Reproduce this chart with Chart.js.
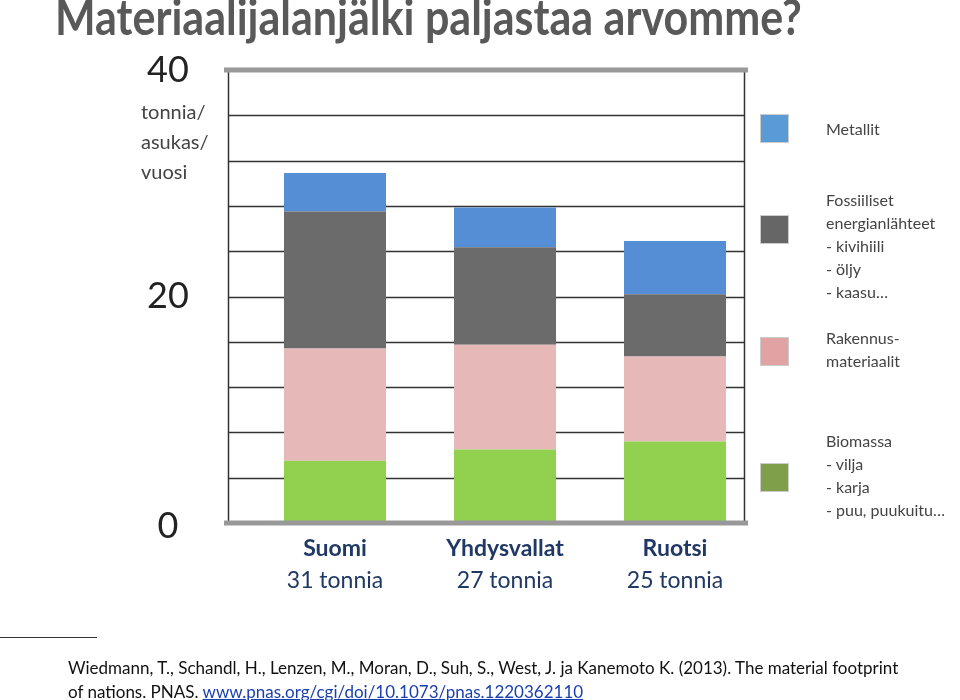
<!DOCTYPE html>
<html><head><meta charset="utf-8">
<script src="https://cdn.jsdelivr.net/npm/chart.js@4"></script>
<style>
body{margin:0;width:960px;height:700px;overflow:hidden;background:#fff;font-family:Lato,"Open Sans",sans-serif;position:relative}
canvas{position:absolute;left:0;top:0}
.t{position:absolute;white-space:nowrap}
.lg{position:absolute;font-size:16px;color:#444;line-height:23px}
.bx{position:absolute;left:760px;width:27px;height:27px;border:1px solid #ccc}
</style></head><body>
<canvas id="c" width="960" height="700"></canvas>
<div class="t" style="left:55px;top:-14px;font-size:50px;font-weight:bold;color:#595959;transform:scaleX(0.86);transform-origin:0 0">Materiaalijalanjälki paljastaa arvomme?</div>
<div class="t" style="left:141px;top:96px;font-size:20px;color:#444;line-height:30px">tonnia/<br>asukas/<br>vuosi</div>
<div class="bx" style="top:114px;background:#5b9bd5"></div>
<div class="bx" style="top:215px;background:#666666"></div>
<div class="bx" style="top:337px;background:#e0a2a2"></div>
<div class="bx" style="top:463px;background:#7f9f4a"></div>
<div class="lg" style="left:826px;top:117px">Metallit</div>
<div class="lg" style="left:826px;top:188px">Fossiiliset<br>energianlähteet<br>- kivihiili<br>- öljy<br>- kaasu…</div>
<div class="lg" style="left:826px;top:326px">Rakennus-<br>materiaalit</div>
<div class="lg" style="left:826px;top:429px">Biomassa<br>- vilja<br>- karja<br>- puu, puukuitu…</div>
<div style="position:absolute;left:0;top:637px;width:97px;border-top:1px solid #333"></div>
<div class="t" style="left:68px;top:656px;font-size:17px;color:#111;line-height:24px">Wiedmann, T., Schandl, H., Lenzen, M., Moran, D.,  Suh, S., West, J. ja Kanemoto K. (2013). The material footprint<br>of nations. PNAS. <span style="color:#1a3fb0;text-decoration:underline">www.pnas.org/cgi/doi/10.1073/pnas.1220362110</span></div>
<script>
const categories=['Suomi','Yhdysvallat','Ruotsi'];
const totals=['31 tonnia','27 tonnia','25 tonnia'];
const biomassa=[5.5,6.5,7.2];
const rakennus=[9.9,9.25,7.5];
const fossiili=[12.1,8.6,5.5];
const metallit=[3.4,3.5,4.7];
const yTicks=[0,20,40];
const deco={id:'deco',
beforeDatasetsDraw(ch){const c=ch.ctx,y=ch.scales.y;c.save();
 c.strokeStyle='#333';c.lineWidth=1.5;
 for(let v=4;v<40;v+=4){const p=Math.round(y.getPixelForValue(v))+0.5;c.beginPath();c.moveTo(228,p);c.lineTo(745,p);c.stroke();}
 c.beginPath();c.moveTo(228.5,y.getPixelForValue(40));c.lineTo(228.5,y.getPixelForValue(0));c.moveTo(744.5,y.getPixelForValue(40));c.lineTo(744.5,y.getPixelForValue(0));c.stroke();
 c.restore();},
afterDatasetsDraw(ch){const c=ch.ctx,y=ch.scales.y,x=ch.scales.x;c.save();
 c.strokeStyle='#999';c.lineWidth=5;
 [40,0].forEach(v=>{const p=y.getPixelForValue(v);c.beginPath();c.moveTo(224,p);c.lineTo(748,p);c.stroke();});
 c.fillStyle='#222';c.textAlign='center';c.textBaseline='middle';c.font='36px Lato';
 yTicks.forEach(v=>c.fillText(String(v),168,y.getPixelForValue(v)+(v==0?3:0)));
 categories.forEach((n,i)=>{const px=x.getPixelForValue(i);c.font='bold 23px Lato';c.fillStyle='#1f3864';c.fillText(n,px,549);c.font='23px Lato';c.fillText(totals[i],px,581);});
 c.restore();}};
new Chart(document.getElementById('c'),{type:'bar',
data:{labels:categories,datasets:[
{label:'Biomassa',data:biomassa,backgroundColor:'#92d050'},
{label:'Rakennusmateriaalit',data:rakennus,backgroundColor:'#e6b9b8'},
{label:'Fossiiliset',data:fossiili,backgroundColor:'#6b6b6b'},
{label:'Metallit',data:metallit,backgroundColor:'#558ed5'}]},
options:{responsive:false,animation:false,layout:{padding:{left:250,right:200,top:70,bottom:177}},
plugins:{legend:{display:false},tooltip:{enabled:false}},
datasets:{bar:{barPercentage:0.6,categoryPercentage:1}},
scales:{x:{stacked:true,display:false},y:{stacked:true,min:0,max:40,display:false}}},
plugins:[deco]});
</script></body></html>
